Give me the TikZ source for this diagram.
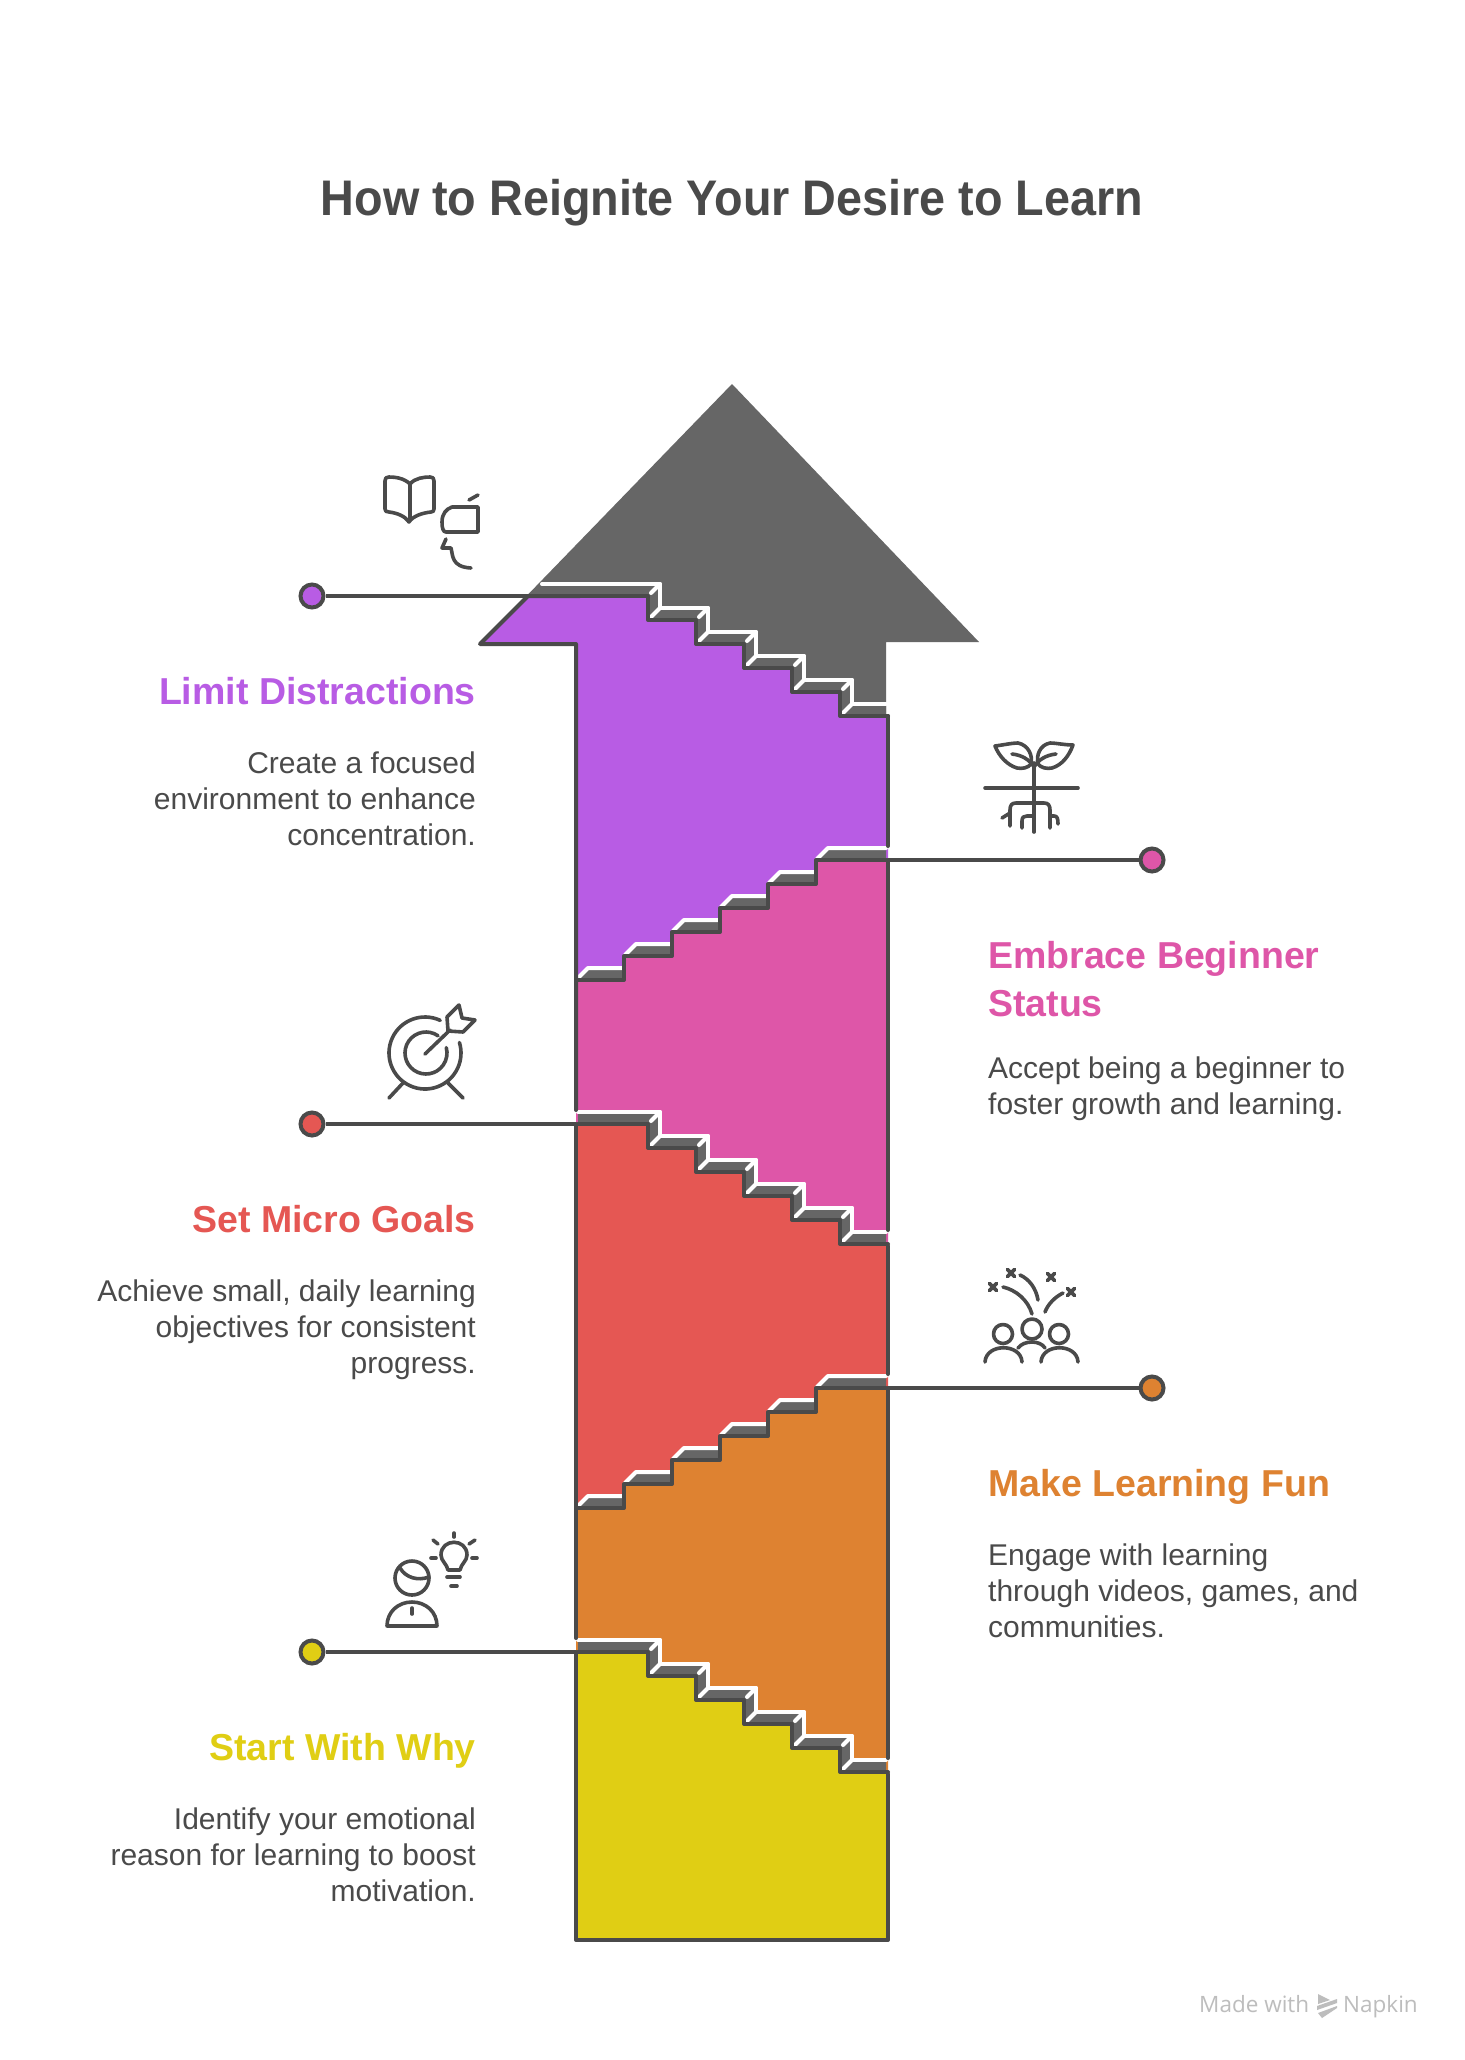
\documentclass[tikz,border=0pt]{standalone}
\usepackage{fontspec}
\setmainfont{Liberation Sans}
\newfontfamily\footfont{Open Sans}
\newfontfamily\titlefont[FakeStretch=0.935]{Liberation Sans}
\definecolor{ink}{HTML}{4A4A4A}
\definecolor{headgray}{HTML}{666666}
\definecolor{cpurple}{HTML}{B85CE4}
\definecolor{cpink}{HTML}{DE56A8}
\definecolor{cred}{HTML}{E55753}
\definecolor{corange}{HTML}{DE8231}
\definecolor{cyellow}{HTML}{E0CE14}
\definecolor{cfoot}{HTML}{BDBDBD}
\tikzset{
  outline/.style={draw=ink,line width=4pt,line cap=round,line join=round},
  whiteline/.style={draw=white,line width=4pt,line cap=round,line join=round},
  band/.style={fill=headgray,draw=none},
  iconline/.style={draw=ink,line width=3.6pt,line cap=round,line join=round},
  dotnode/.style={circle,draw=ink,line width=4pt,minimum size=23pt,inner sep=0pt},
  connector/.style={draw=ink,line width=4pt},
  titletext/.style={inner sep=0pt,text=ink,font=\fontsize{50}{58}\titlefont\bfseries},
  headtext/.style={inner sep=0pt,font=\fontsize{37.5}{48}\selectfont\bfseries},
  bodytext/.style={inner sep=0pt,text=ink,font=\fontsize{30}{36}\selectfont},
  foottext/.style={inner sep=0pt,text=cfoot,font=\fontsize{22.5}{28}\footfont},
}
\newcommand{\StairDown}[1]{%
  \begin{scope}[shift={(0,#1)}]
    \fill[band] (578,584) -- (660,584) -- (660,608) -- (708,608) -- (708,632) -- (756,632) -- (756,656) -- (804,656) -- (804,680) -- (852,680) -- (852,704) -- (886,704) -- (886,716) -- (840,716) -- (840,692) -- (792,692) -- (792,668) -- (744,668) -- (744,644) -- (696,644) -- (696,620) -- (648,620) -- (648,596) -- (578,596) -- cycle;
    \draw[whiteline] (578,584) -- (660,584) -- (660,608) -- (708,608) -- (708,632) -- (756,632) -- (756,656) -- (804,656) -- (804,680) -- (852,680) -- (852,704) -- (886,704);
    \foreach \cx/\cy in {660/584,660/608,708/608,708/632,756/632,756/656,804/656,804/680,852/680,852/704}
      \draw[whiteline] (\cx,\cy) -- ++(-9,9);
    \draw[outline] (578,596) -- (648,596) -- (648,620) -- (696,620) -- (696,644) -- (744,644) -- (744,668) -- (792,668) -- (792,692) -- (840,692) -- (840,716) -- (888,716);
  \end{scope}}
\newcommand{\StairUp}[1]{%
  \begin{scope}[shift={(0,#1)}]
    \foreach \tx/\ty/\ex in {576/980/624,624/956/672,672/932/720,720/908/768,768/884/816,816/860/886}{
      \fill[band] (\tx,\ty) -- ++(12,-12) -- (\ex,\ty-12) -- (\ex,\ty) -- cycle;
      \draw[whiteline] (\tx+1,\ty-1) -- ++(11,-11) -- (\ex,\ty-12);
    }
    \draw[outline] (578,980) -- (624,980) -- (624,956) -- (672,956) -- (672,932) -- (720,932) -- (720,908) -- (768,908) -- (768,884) -- (816,884) -- (816,860) -- (886,860);
  \end{scope}}
\begin{document}
\begin{tikzpicture}[x=1pt,y=-1pt]
\useasboundingbox (0,0) rectangle (1464,2060);
\fill[white] (0,0) rectangle (1464,2060);
% head and shaft top in gray
\fill[headgray] (732,384) -- (979,642) -- (886,642) -- (886,720) -- (576,720) -- (576,644) -- (480,644) -- cycle;
% coloured sections
\fill[cpurple] (528,596) -- (648,596) -- (648,620) -- (696,620) -- (696,644) -- (744,644) -- (744,668) -- (792,668) -- (792,692) -- (840,692) -- (840,716) -- (888,716) -- (888,1000) -- (576,1000) -- (576,644) -- (480,644) -- cycle;
\fill[cpink] (576,980) -- (624,980) -- (624,956) -- (672,956) -- (672,932) -- (720,932) -- (720,908) -- (768,908) -- (768,884) -- (816,884) -- (816,860) -- (888,860) -- (888,1300) -- (576,1300) -- cycle;
\fill[cred] (576,1124) -- (648,1124) -- (648,1148) -- (696,1148) -- (696,1172) -- (744,1172) -- (744,1196) -- (792,1196) -- (792,1220) -- (840,1220) -- (840,1244) -- (888,1244) -- (888,1530) -- (576,1530) -- cycle;
\fill[corange] (576,1508) -- (624,1508) -- (624,1484) -- (672,1484) -- (672,1460) -- (720,1460) -- (720,1436) -- (768,1436) -- (768,1412) -- (816,1412) -- (816,1388) -- (888,1388) -- (888,1780) -- (576,1780) -- cycle;
\fill[cyellow] (576,1652) -- (648,1652) -- (648,1676) -- (696,1676) -- (696,1700) -- (744,1700) -- (744,1724) -- (792,1724) -- (792,1748) -- (840,1748) -- (840,1772) -- (888,1772) -- (888,1940) -- (576,1940) -- cycle;
% first stair has the slope on its left
\fill[band] (540,584) -- (580,584) -- (580,596) -- (528,596) -- cycle;
\draw[whiteline] (542,584) -- (580,584);
\StairDown{0}
\StairUp{0}
\StairDown{528}
\StairUp{528}
\StairDown{1056}
% outline of the shaft, broken at each white stair line
\draw[outline] (580,596) -- (528,596) -- (480,644) -- (576,644) -- (576,1110);
\draw[outline] (576,1124) -- (576,1638);
\draw[outline] (576,1652) -- (576,1940) -- (888,1940) -- (888,1774);
\draw[outline] (888,1758) -- (888,1388);
\draw[outline] (888,1374) -- (888,1246);
\draw[outline] (888,1230) -- (888,860);
\draw[outline] (888,846) -- (888,716);
% dots and connectors
\coordinate (stairLimit) at (528,596);
\coordinate (stairMicro) at (576,1124);
\coordinate (stairWhy) at (576,1652);
\coordinate (stairBegin) at (888,860);
\coordinate (stairFun) at (888,1388);
\node[dotnode,fill=cpurple] (dotLimit) at (312,596) {};
\node[dotnode,fill=cred] (dotMicro) at (312,1124) {};
\node[dotnode,fill=cyellow] (dotWhy) at (312,1652) {};
\node[dotnode,fill=cpink] (dotBegin) at (1152,860) {};
\node[dotnode,fill=corange] (dotFun) at (1152,1388) {};
\draw[connector] (dotLimit) -- (stairLimit);
\draw[connector] (dotMicro) -- (stairMicro);
\draw[connector] (dotWhy) -- (stairWhy);
\draw[connector] (dotBegin) -- (stairBegin);
\draw[connector] (dotFun) -- (stairFun);
% title
\node[titletext,anchor=center] (title) at (732,203) {How to Reignite Your Desire to Learn};
% left blocks
\node[headtext,text=cpurple,anchor=north east] (hLimit) at (476,677) {Limit Distractions};
\node[bodytext,align=right,anchor=north east] (bLimit) at (476,752) {Create a focused\\environment to enhance\\concentration.};
\node[headtext,text=cred,anchor=north east] (hMicro) at (476,1205) {Set Micro Goals};
\node[bodytext,align=right,anchor=north east] (bMicro) at (476,1280) {Achieve small, daily learning\\objectives for consistent\\progress.};
\node[headtext,text=cyellow,anchor=north east] (hWhy) at (476,1733) {Start With Why};
\node[bodytext,align=right,anchor=north east] (bWhy) at (476,1808) {Identify your emotional\\reason for learning to boost\\motivation.};
% right blocks
\node[headtext,text=cpink,align=left,anchor=north west] (hBegin) at (988,941) {Embrace Beginner\\Status};
\node[bodytext,align=left,anchor=north west] (bBegin) at (988,1057) {Accept being a beginner to\\foster growth and learning.};
\node[headtext,text=corange,anchor=north west] (hFun) at (988,1469) {Make Learning Fun};
\node[bodytext,align=left,anchor=north west] (bFun) at (988,1544) {Engage with learning\\through videos, games, and\\communities.};
% icon: book, screen, squiggle
\begin{scope}[iconline]
\draw (410,484) .. controls (404,478) and (395,477) .. (389,477) .. controls (386,477) and (385,478) .. (385,481) -- (385,509) .. controls (385,511) and (386,512) .. (389,512) .. controls (397,513) and (405,516) .. (409,522) .. controls (413,516) and (422,513) .. (431,512) .. controls (433,512) and (434,511) .. (434,509) -- (434,481) .. controls (434,478) and (433,477) .. (430,477) .. controls (424,477) and (415,478) .. (410,484) -- (410,520);
\draw (478,507) -- (452,507) .. controls (446,509) and (442,514) .. (442,522) .. controls (442,528) and (443,532) .. (446,532) -- (478,532) -- cycle;
\draw (469,500) -- (478,495);
\draw (446,539) -- (442,548) -- (451,548) .. controls (453,555) and (451,567) .. (471,568);
% icon: plant
\draw (985,788) -- (1078,788);
\draw (1034,763) -- (1034,832);
\draw (995,746) .. controls (1003,745) and (1012,743) .. (1018,743) .. controls (1028,745) and (1033,755) .. (1031,764) .. controls (1028,768) and (1022,769) .. (1017,768) .. controls (1007,765) and (999,756) .. (995,746) -- cycle;
\draw (1073,745) .. controls (1065,745) and (1056,743) .. (1050,743) .. controls (1040,745) and (1036,755) .. (1038,764) .. controls (1041,768) and (1047,769) .. (1052,768) .. controls (1062,765) and (1069,756) .. (1073,745) -- cycle;
\draw (1012,754) .. controls (1022,755) and (1030,760) .. (1034,767) .. controls (1038,760) and (1046,755) .. (1056,754);
\draw (1010,826) -- (1010,810) .. controls (1010,805) and (1012,803) .. (1016,803) -- (1044,803) .. controls (1048,803) and (1050,805) .. (1050,810) -- (1050,828);
\draw (1002,818) -- (1010,813);
\draw (1051,816) -- (1054,816) .. controls (1057,816) and (1058,818) .. (1058,824);
\draw (1022,828) -- (1022,821) .. controls (1022,817) and (1024,816) .. (1027,816) -- (1034,816);
% icon: target
\draw (425,1053) ++(-65:36) arc[start angle=-65,end angle=-377,radius=36];
\draw (426,1053) ++(-55:21) arc[start angle=-55,end angle=-375,radius=21];
\draw (425,1054) -- (450,1030);
\draw (447,1017) -- (459,1005) -- (462,1018) -- (475,1020) -- (463,1032) -- (448,1031) -- cycle;
\draw (403,1083) -- (389,1098);
\draw (448,1083) -- (463,1098);
% icon: people with fireworks
\draw (1003,1334) circle[radius=9.5];
\draw (1032,1329) circle[radius=10];
\draw (1059,1334) circle[radius=9.5];
\draw (985,1362) .. controls (986,1343) and (1021,1343) .. (1022,1362);
\draw (1018,1348) .. controls (1024,1340) and (1040,1340) .. (1045,1348);
\draw (1041,1362) .. controls (1042,1343) and (1077,1343) .. (1078,1362);
\draw (1003,1287) .. controls (1016,1290) and (1028,1300) .. (1032,1314);
\draw (1020,1275) .. controls (1029,1279) and (1036,1288) .. (1038,1300);
\draw (1045,1312) .. controls (1048,1304) and (1055,1297) .. (1063,1293);
\foreach \fx/\fy in {993/1287,1011/1273,1051/1277,1071/1292}
  \draw (\fx-3.5,\fy-3.5) -- (\fx+3.5,\fy+3.5) (\fx-3.5,\fy+3.5) -- (\fx+3.5,\fy-3.5);
% icon: person with bulb
\draw (412,1578) circle[radius=17];
\draw (400,1568) .. controls (406,1578) and (418,1581) .. (429,1577);
\draw (387,1626) .. controls (387,1612) and (398,1602) .. (412,1602) .. controls (426,1602) and (437,1612) .. (437,1626) -- cycle;
\draw (412,1608) -- (412,1614);
\draw (448,1570) .. controls (447,1564) and (441,1561) .. (441,1555) .. controls (441,1538) and (467,1538) .. (467,1555) .. controls (467,1561) and (461,1564) .. (460,1570) -- cycle;
\draw (447,1577) -- (460,1577);
\draw (451,1586) -- (457,1586);
\draw (454,1533) -- (454,1537);
\draw (433,1540) -- (438,1544);
\draw (475,1540) -- (469,1544);
\draw (431,1558) -- (436,1558);
\draw (472,1558) -- (477,1558);
\end{scope}
% footer
\node[foottext,anchor=base west] (made) at (1199,2012) {Made with};
\node[foottext,anchor=base west] (napkin) at (1343,2012) {Napkin};
\fill[cfoot] (1318,1994) -- (1330,2000) -- (1318,2004) -- cycle;
\fill[cfoot] (1317,2006) -- (1337,1999) -- (1337,2003) -- (1317,2010) -- cycle;
\fill[cfoot] (1318,2013) -- (1337,2006) -- (1337,2008) -- (1322,2018) -- cycle;
\end{tikzpicture}
\end{document}
